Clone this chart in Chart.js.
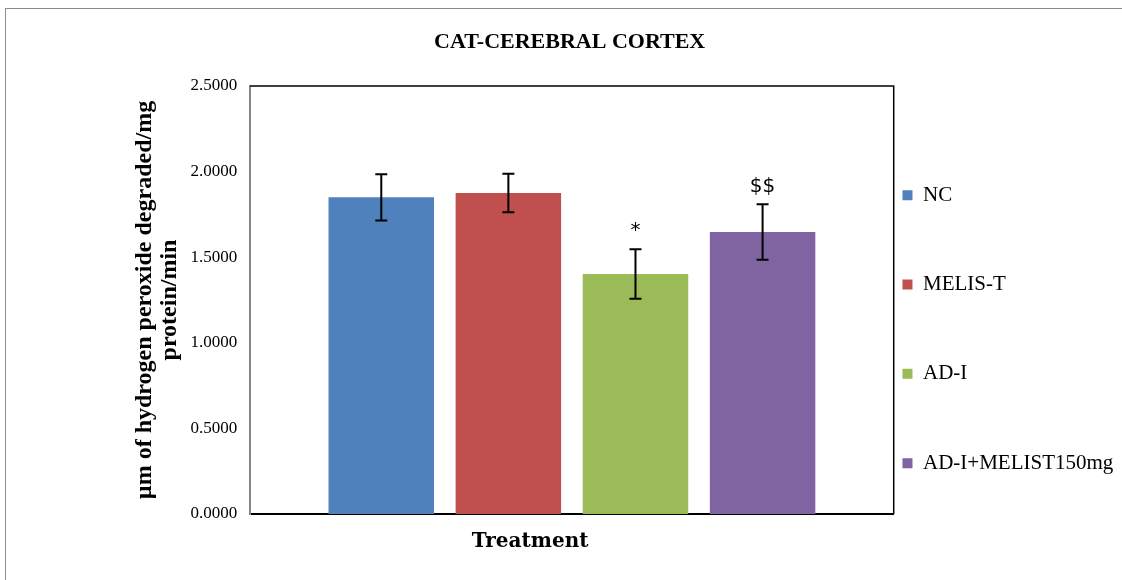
<!DOCTYPE html>
<html>
<head>
<meta charset="utf-8">
<script src="https://cdn.jsdelivr.net/npm/chart.js@4"></script>
<style>
  html, body { margin: 0; padding: 0; background: #fff; }
  #wrap { width: 1122px; height: 580px; position: relative; }
</style>
</head>
<body>
<div id="wrap"><canvas id="catChart"></canvas></div>
<script>
const groups = ['NC', 'MELIS-T', 'AD-I', 'AD-I+MELIST150mg'];
const means = [1.850, 1.875, 1.402, 1.647];
const errors = [0.135, 0.112, 0.145, 0.162];
const marks = ['', '', '*', '$$'];
const yTicks = [0, 0.5, 1.0, 1.5, 2.0, 2.5];
const colors = ['#4F81BD', '#C0504D', '#9BBB59', '#8064A2'];

const serif = '"Liberation Serif", "Times New Roman", serif';

// frame round the whole chart + top/right border of plot area
const framePlugin = {
  id: 'frame',
  beforeDraw(chart) {
    const c = chart.ctx;
    c.save();
    c.fillStyle = '#fff';
    c.fillRect(0, 0, chart.width, chart.height);
    c.strokeStyle = '#8c8c8c';
    c.lineWidth = 1;
    c.strokeRect(5.5, 8.5, chart.width + 20, chart.height + 20);
    c.restore();
  },
  afterDraw(chart) {
    const { left, right, top, bottom } = chart.chartArea;
    const c = chart.ctx;
    c.save();
    c.strokeStyle = '#000';
    c.lineWidth = 1.5;
    c.beginPath();
    c.moveTo(left, top);
    c.lineTo(right, top);
    c.lineTo(right, bottom);
    c.stroke();
    c.restore();
  }
};

// error bars and significance marks
const errorBarPlugin = {
  id: 'errorBars',
  afterDatasetsDraw(chart) {
    const c = chart.ctx;
    const y = chart.scales.y;
    c.save();
    c.strokeStyle = '#000';
    c.lineWidth = 2;
    chart.data.datasets.forEach((ds, i) => {
      const bar = chart.getDatasetMeta(i).data[0];
      if (!bar) return;
      const x = bar.x;
      const hi = y.getPixelForValue(means[i] + errors[i]);
      const lo = y.getPixelForValue(means[i] - errors[i]);
      c.beginPath();
      c.moveTo(x, hi); c.lineTo(x, lo);
      c.moveTo(x - 6, hi); c.lineTo(x + 6, hi);
      c.moveTo(x - 6, lo); c.lineTo(x + 6, lo);
      c.stroke();
      if (marks[i]) {
        c.fillStyle = '#000';
        c.font = '20px "DejaVu Sans", sans-serif';
        c.textAlign = 'center';
        c.textBaseline = 'bottom';
        c.fillText(marks[i], x, hi - 8);
      }
    });
    c.restore();
  }
};

const datasets = groups.map((g, i) => ({
  label: g,
  data: [means[i]],
  backgroundColor: colors[i],
  borderWidth: 0,
  categoryPercentage: 0.79,
  barPercentage: 0.83
}));

// blank entries between the legend items give the wide vertical spacing
function legendWithGaps(chart) {
  const items = Chart.defaults.plugins.legend.labels.generateLabels(chart);
  const blank = () => ({ text: '', fillStyle: 'rgba(0,0,0,0)', strokeStyle: 'rgba(0,0,0,0)', lineWidth: 0, hidden: false, datasetIndex: -1 });
  const out = [];
  items.forEach((it, i) => {
    if (i > 0) out.push(blank(), blank());
    it.lineWidth = 0;
    out.push(it);
  });
  return out;
}

new Chart(document.getElementById('catChart'), {
  type: 'bar',
  data: { labels: [''], datasets },
  plugins: [framePlugin, errorBarPlugin],
  options: {
    responsive: true,
    maintainAspectRatio: false,
    animation: false,
    layout: { padding: { left: 16, right: -1.3, top: 10, bottom: 26 } },
    plugins: {
      title: {
        display: true,
        text: 'CAT-CEREBRAL CORTEX',
        color: '#000',
        font: { family: serif, size: 22, weight: 'bold' },
        padding: { top: 18.8, bottom: 30.8 }
      },
      legend: {
        position: 'right',
        title: { display: true, text: ' ', font: { size: 12 }, padding: { top: 0, bottom: 80 } },
        labels: {
          color: '#000',
          boxWidth: 10,
          boxHeight: 10,
          padding: 8.77,
          font: { family: serif, size: 21 },
          generateLabels: legendWithGaps
        }
      },
      tooltip: { enabled: false }
    },
    scales: {
      x: {
        grid: { display: false, drawTicks: false },
        border: { color: '#000', width: 2 },
        ticks: { display: false },
        title: {
          display: true,
          text: 'Treatment' + ' '.repeat(12),
          color: '#000',
          font: { family: '"DejaVu Serif", serif', size: 20, weight: 'bold' },
          padding: { top: 16, bottom: 0 }
        }
      },
      y: {
        min: 0,
        max: 2.5,
        afterBuildTicks: (axis) => { axis.ticks = yTicks.map(v => ({ value: v })); },
        grid: { display: false, drawOnChartArea: false, drawTicks: true, tickLength: 6, tickColor: '#868686' },
        border: { color: '#868686', width: 2 },
        ticks: {
          color: '#000',
          padding: 7,
          font: { family: serif, size: 17 },
          callback: (v) => Number(v).toFixed(4)
        },
        title: {
          display: true,
          text: ['µm of hydrogen peroxide degraded/mg', 'protein/min'],
          color: '#000',
          font: { family: serif, size: 24, weight: 'bold', lineHeight: 1.05 },
          padding: { top: 116, bottom: 1 }
        }
      }
    }
  }
});
</script>
</body>
</html>
